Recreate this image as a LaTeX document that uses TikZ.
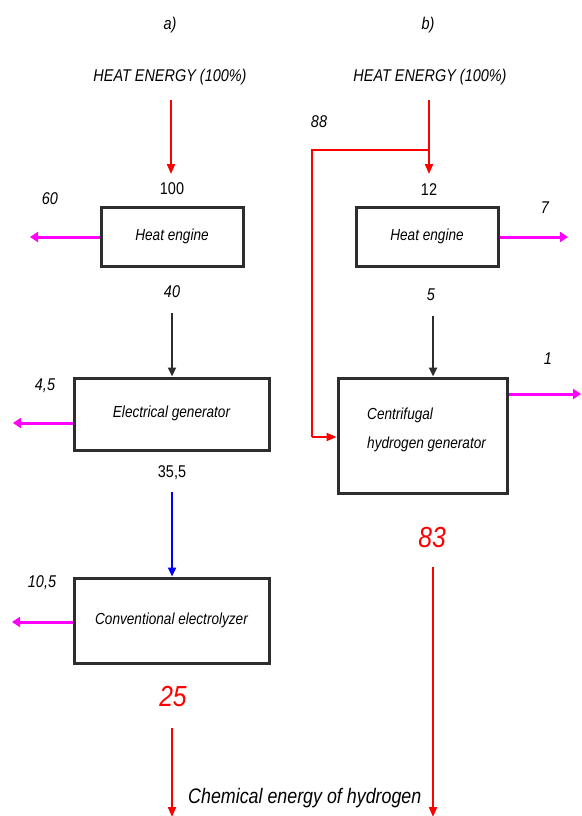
\documentclass[tikz,border=0pt]{standalone}
\usepackage{fontspec}
\setmainfont{Liberation Sans}[FakeStretch=0.85]
\usetikzlibrary{arrows.meta}
\definecolor{mag}{RGB}{255,0,255}
\definecolor{boxline}{RGB}{45,45,45}
\begin{document}
\begin{tikzpicture}[x=1pt,y=-1pt,
  box/.style={draw=boxline, line width=3pt, inner sep=0pt, font=\fontsize{16}{19}\selectfont\itshape},
  lab/.style={inner sep=0pt, font=\fontsize{17}{20}\selectfont\itshape},
  uplab/.style={inner sep=0pt, font=\fontsize{17}{20}\selectfont},
  biglab/.style={inner sep=0pt, text=red, font=\fontsize{29}{31}\selectfont\itshape},
  redarr/.style={draw=red, line width=2pt, -{Triangle[length=10pt,width=8pt]}},
  redline/.style={draw=red, line width=2pt},
  magarr/.style={draw=mag, line width=3pt, -{Triangle[length=8pt,width=10pt]}},
  blkarr/.style={draw=boxline, line width=2.4pt, -{Triangle[length=9pt,width=8pt]}},
  bluarr/.style={draw=blue, line width=2.4pt, -{Triangle[length=9pt,width=8pt]}}]
\useasboundingbox (0,0) rectangle (581,816);
% ---------- a) ----------
\node[lab] (ta) at (170,25) {a)};
\node[lab] (hea) at (170,77) {HEAT ENERGY (100\%)};
\node[uplab] (n100) at (172,189) {100};
\node[box, minimum width=142pt, minimum height=59pt] (a1) at (172,236.5) {Heat engine};
\node[lab] (n60) at (50,199) {60};
\node[lab] (n40) at (172,292) {40};
\node[box, minimum width=195pt, minimum height=72pt] (a2) at (171.5,414) {\raisebox{5pt}{Electrical generator}};
\node[lab] (n45) at (45,386) {4,5};
\node[uplab] (n355) at (172,473) {35,5};
\node[box, minimum width=195pt, minimum height=85pt] (a3) at (171.5,620.5) {Conventional electrolyzer};
\node[lab] (n105) at (42,583) {10,5};
\node[biglab] (n25) at (173,697) {25};
\node[lab, font=\fontsize{21}{24}\selectfont\itshape, anchor=west] (chem) at (188,798) {Chemical energy of hydrogen};
\coordinate (ra0) at (171,100);
\coordinate (ra1) at (171,174);
\coordinate (ma1) at (30,237);
\coordinate (ka0) at (172,313);
\coordinate (ma2) at (13,423);
\coordinate (ba0) at (172,492);
\coordinate (ma3) at (12,622);
\coordinate (ra2) at (172,728);
\coordinate (ra3) at (172,817);
\draw[redarr] (ra0) -- (ra1);
\draw[magarr] (a1.west |- ma1) -- (ma1);
\draw[blkarr] (ka0) -- (a2.north -| ka0);
\draw[magarr] (a2.west |- ma2) -- (ma2);
\draw[bluarr] (ba0) -- (a3.north -| ba0);
\draw[magarr] (a3.west |- ma3) -- (ma3);
\draw[redarr] (ra2) -- (ra3);
% ---------- b) ----------
\node[lab] (tb) at (428,25) {b)};
\node[lab] (heb) at (430,77) {HEAT ENERGY (100\%)};
\node[lab] (n88) at (319,122) {88};
\node[uplab] (n12) at (429,190) {12};
\node[box, minimum width=142pt, minimum height=59pt] (b1) at (427,236.5) {Heat engine};
\node[lab] (n7) at (545,208) {7};
\node[lab] (n5) at (431,295) {5};
\node[box, minimum width=169pt, minimum height=115pt] (b2) at (422.5,435.5) {};
\node[inner sep=0pt, anchor=north west, align=left, font=\fontsize{16}{29}\selectfont\itshape] (b2t) at (367,408) {Centrifugal\\hydrogen generator};
\node[lab] (n1) at (548,359) {1};
\node[biglab] (n83) at (432,538) {83};
\coordinate (rb0) at (429,100);
\coordinate (rb1) at (429,174);
\coordinate (br) at (429,150);
\coordinate (bl) at (312,150);
\coordinate (bd) at (312,437);
\coordinate (mb1) at (568,237);
\coordinate (kb0) at (433,316);
\coordinate (mb2) at (581,394);
\coordinate (rb2) at (433,567);
\coordinate (rb3) at (433,817);
\draw[redarr] (rb0) -- (rb1);
\draw[redline] (br) -- (bl) -- (bd);
\draw[redarr] (bd) -- (b2.west |- bd);
\draw[magarr] (b1.east |- mb1) -- (mb1);
\draw[blkarr] (kb0) -- (b2.north -| kb0);
\draw[magarr] (b2.east |- mb2) -- (mb2);
\draw[redarr] (rb2) -- (rb3);
\end{tikzpicture}
\end{document}
